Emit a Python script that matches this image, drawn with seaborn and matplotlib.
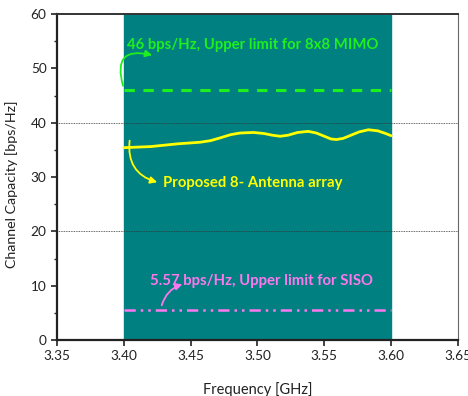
import matplotlib
matplotlib.use("Agg")
import matplotlib.pyplot as plt
import seaborn as sns
import pandas as pd

# Capacity of the proposed 8-antenna array across the band
freq_ghz = [3.400, 3.420, 3.440, 3.457, 3.465, 3.472, 3.480, 3.487, 3.497,
            3.505, 3.511, 3.517, 3.523, 3.530, 3.538, 3.544, 3.550, 3.555,
            3.559, 3.564, 3.570, 3.576, 3.583, 3.590, 3.596, 3.600]
capacity = [35.4, 35.6, 36.1, 36.4, 36.7, 37.2, 37.8, 38.1, 38.2,
            38.0, 37.7, 37.5, 37.7, 38.2, 38.4, 38.1, 37.5, 37.0,
            36.9, 37.1, 37.7, 38.3, 38.7, 38.5, 38.0, 37.6]

# Theoretical limits
band = [3.40, 3.60]
mimo_limit = 46.0
siso_limit = 5.57

x_ticks = [3.35, 3.40, 3.45, 3.50, 3.55, 3.60, 3.65]
y_ticks = [0, 10, 20, 30, 40, 50, 60]

sns.set_style("ticks")
plt.rcParams["font.family"] = ["Lato", "DejaVu Sans"]

fig = plt.figure(figsize=(4.68, 3.96), dpi=100)
ax = fig.add_axes([0.1218, 0.1414, 0.8568, 0.8232])

ax.axvspan(band[0], band[1], color="#008080", zorder=0)
for g in (20, 40):
    ax.axhline(g, color="#333333", lw=0.6, ls=(0, (1, 1)), zorder=1)

df = pd.DataFrame({"Frequency": freq_ghz, "Capacity": capacity})
sns.lineplot(data=df, x="Frequency", y="Capacity", ax=ax, color="#ffff00", lw=2.0, zorder=3)

lim = pd.DataFrame({"Frequency": band, "mimo": [mimo_limit] * 2, "siso": [siso_limit] * 2})
sns.lineplot(data=lim, x="Frequency", y="mimo", ax=ax, color="#1ef01e", lw=2.2,
             zorder=3).lines[-1].set_linestyle((0, (3.4, 2.8)))
sns.lineplot(data=lim, x="Frequency", y="siso", ax=ax, color="#ff77ee", lw=1.8,
             zorder=3).lines[-1].set_linestyle((0, (4.5, 2, 1, 2, 1, 2)))

ax.set_xlim(3.35, 3.65)
ax.set_ylim(0, 60)
ax.set_xticks(x_ticks)
ax.set_xticklabels([f"{v:.2f}" for v in x_ticks])
ax.set_yticks(y_ticks)
ax.set_yticks(range(5, 60, 10), minor=True)
ax.tick_params(axis="both", which="major", labelsize=9.8, length=4, width=1.2,
               color="#222222", labelcolor="#222222")
ax.tick_params(axis="y", which="minor", length=2.5, width=1.0, color="#222222")

for side in ("left", "bottom"):
    ax.spines[side].set_linewidth(1.6)
    ax.spines[side].set_color("#222222")
ax.spines["top"].set_linewidth(1.4)
ax.spines["top"].set_color("#333333")
ax.spines["right"].set_linewidth(0.8)
ax.spines["right"].set_color("#666666")

ax.set_xlabel("Frequency [GHz]", fontsize=10.5, color="#222222")
ax.set_ylabel("Channel Capacity [bps/Hz]", fontsize=10.3, color="#222222")
ax.xaxis.set_label_coords(0.5, -0.13)
ax.yaxis.set_label_coords(-0.0985, 0.477)

ax.text(3.4024, 54.3, "46 bps/Hz, Upper limit for 8x8 MIMO", color="#1ef01e",
        fontsize=10.7, fontweight="bold", va="center", ha="left", zorder=4)
ax.text(3.4293, 28.9, "Proposed 8- Antenna array", color="#ffff00",
        fontsize=10.7, fontweight="bold", va="center", ha="left", zorder=4)
ax.text(3.4196, 10.9, "5.57 bps/Hz, Upper limit for SISO", color="#ff77ee",
        fontsize=10.7, fontweight="bold", va="center", ha="left", zorder=4)

ax.annotate("", xy=(3.4233, 52.3), xytext=(3.4000, 46.3),
            arrowprops=dict(arrowstyle="-|>", color="#1ef01e", lw=1.3,
                            connectionstyle="arc3,rad=-0.9", mutation_scale=10), zorder=4)
ax.annotate("", xy=(3.4270, 28.9), xytext=(3.4046, 37.2),
            arrowprops=dict(arrowstyle="-|>", color="#ffff00", lw=1.3,
                            connectionstyle="arc3,rad=0.45", mutation_scale=10), zorder=4)
ax.annotate("", xy=(3.4458, 10.4), xytext=(3.4278, 5.9),
            arrowprops=dict(arrowstyle="-|>", color="#ff77ee", lw=1.3,
                            connectionstyle="arc3,rad=-0.3", mutation_scale=10), zorder=4)

fig.savefig("out.png", dpi=100)
